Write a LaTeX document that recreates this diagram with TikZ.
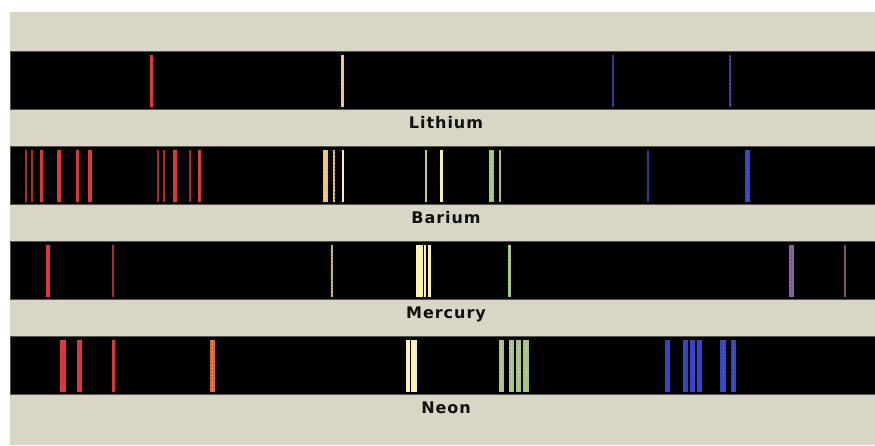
\documentclass[tikz,border=0pt]{standalone}
\usepackage{fontspec}
\newfontfamily\labfont{DejaVu Sans}[LetterSpace=6]
\definecolor{beige}{HTML}{D9D6C6}
\definecolor{bandedge}{HTML}{55554A}
\definecolor{sred}{HTML}{E23636}
\definecolor{sdred}{HTML}{B02A2A}
\definecolor{sorange}{HTML}{E0642E}
\definecolor{sgold}{HTML}{F2C466}
\definecolor{spale}{HTML}{F8F2AC}
\definecolor{solive}{HTML}{C8C28C}
\definecolor{sbrown}{HTML}{A0602A}
\definecolor{sgreen}{HTML}{A6C47E}
\definecolor{sgreenl}{HTML}{D4E4A8}
\definecolor{sblue}{HTML}{3246C8}
\definecolor{sdblue}{HTML}{2A3A9E}
\definecolor{spurple}{HTML}{8A62A8}
\definecolor{smauve}{HTML}{80506E}
\definecolor{labtext}{HTML}{111111}
\tikzset{
  band/.style={fill=black, draw=bandedge, line width=1pt},
  lab/.style={font=\labfont\bfseries\fontsize{16pt}{16pt}\selectfont, text=labtext, anchor=base, inner sep=0pt}
}
% \specbar{top y}{left x}{width}{colour}
\newcommand\specbar[4]{\fill[#4] (#2,#1) rectangle ++(#3,52);}
% \specdot{top y}{left x}{width}{colour}{dot colour}
\newcommand\specdot[5]{\fill[#4] (#2,#1) rectangle ++(#3,52);
  \draw[#5, line width=0.8pt, dash pattern=on 0.8pt off 2.6pt] ($(#2,#1)+(#3/2,1)$) -- ++(0,50);}
\usetikzlibrary{calc}
\begin{document}
\begin{tikzpicture}[x=1pt,y=-1pt]
\useasboundingbox (0,0) rectangle (875,445);
\fill[white] (0,0) rectangle (875,445);
\fill[beige] (10,12) rectangle (875,445);
% bands
\filldraw[band] (10.5,51.5) rectangle (876,109.5);
\filldraw[band] (10.5,146.5) rectangle (876,204.5);
\filldraw[band] (10.5,241.5) rectangle (876,299.5);
\filldraw[band] (10.5,336.5) rectangle (876,394.5);
% Lithium
\specbar{55}{150}{3}{sred}
\specdot{55}{341}{3}{sgold}{spale}
\specbar{55}{612}{2}{sdblue}
\specdot{55}{729}{2}{sdblue}{spurple}
% Barium
\specbar{150}{25}{1.6}{sdred}
\specbar{150}{31}{1.6}{sdred}
\specbar{150}{40}{2.8}{sred}
\specbar{150}{57}{4}{sred}
\specbar{150}{76}{3}{sred}
\specbar{150}{88}{4}{sred}
\specbar{150}{157}{1.6}{sdred}
\specbar{150}{163}{1.6}{sdred}
\specbar{150}{173}{4}{sred}
\specbar{150}{189}{1.6}{sdred}
\specdot{150}{198}{2.8}{sred}{sorange}
\specdot{150}{323}{5}{sgold}{spale}
\specdot{150}{333}{2.4}{sgold}{sbrown}
\specbar{150}{342}{1.8}{spale}
\specbar{150}{425}{1.8}{solive}
\specbar{150}{439.5}{3}{spale}
\specdot{150}{489}{4.8}{sgreen}{sgreenl}
\specbar{150}{499}{1.8}{sgreen}
\specbar{150}{647}{1.8}{sdblue}
\specdot{150}{745}{5}{sblue}{spurple}
% Mercury
\specbar{245}{45.5}{4.6}{sred}
\specbar{245}{112}{1.8}{sdred}
\specdot{245}{331}{1.8}{solive}{sbrown}
\specbar{245}{416}{7}{spale}
\specbar{245}{424.2}{1.8}{spale}
\specbar{245}{428}{3.2}{spale}
\specdot{245}{507.8}{3}{sgreen}{sgreenl}
\specdot{245}{788.8}{5}{spurple}{sblue}
\specbar{245}{843.8}{1.8}{smauve}
% Neon
\specbar{340}{60}{6}{sred}
\specbar{340}{77}{5}{sred}
\specbar{340}{112}{3.2}{sred}
\specdot{340}{210.3}{5}{sorange}{sgold}
\specbar{340}{406}{4}{spale}
\specbar{340}{411.3}{5.6}{spale}
\specdot{340}{499}{5}{sgreen}{sgreenl}
\specdot{340}{508.7}{5.3}{sgreen}{sgreenl}
\specdot{340}{516}{5.3}{sgreen}{sgreenl}
\specdot{340}{523.2}{5.4}{sgreen}{sgreenl}
\specbar{340}{665.3}{5}{sblue}
\specbar{340}{683}{4.8}{sblue}
\specbar{340}{690.1}{4.9}{sblue}
\specbar{340}{697.3}{5}{sblue}
\specdot{340}{720.3}{5.4}{sblue}{sorange}
\specdot{340}{730.7}{5}{sblue}{spurple}
% labels
\node[lab] (lithium) at (446,128) {Lithium};
\node[lab] (barium) at (446,223) {Barium};
\node[lab] (mercury) at (446,318) {Mercury};
\node[lab] (neon) at (446,413) {Neon};
\end{tikzpicture}
\end{document}
